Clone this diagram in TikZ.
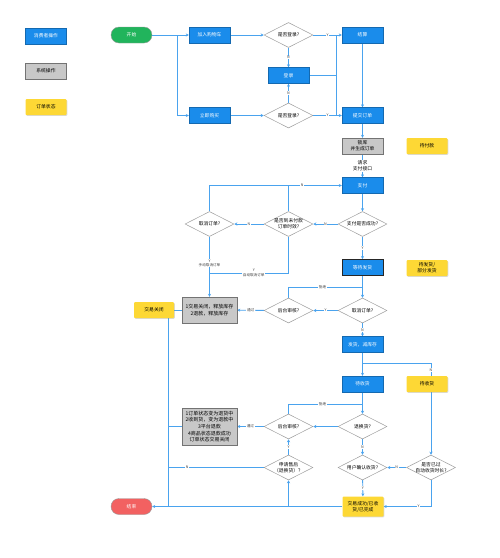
\documentclass[tikz,border=0pt]{standalone}
\usepackage{fontspec}
\newfontfamily\cjk{Noto Sans CJK SC}
\usetikzlibrary{shapes.geometric,arrows.meta,shadows,backgrounds}

\definecolor{opblue}{HTML}{1A8CEB}
\definecolor{linkblue}{HTML}{4AA3EE}
\definecolor{sysgray}{HTML}{C8C8C8}
\definecolor{stateyellow}{HTML}{FDD835}
\definecolor{startgreen}{HTML}{21B45C}
\definecolor{endred}{HTML}{F26161}
\definecolor{diagray}{HTML}{9E9E9E}

\tikzset{
  every node/.style={font=\cjk\fontsize{4.8}{6}\selectfont},
  op/.style={rectangle, draw=opblue!75!black, fill=opblue, text=white, minimum width=41pt, minimum height=16pt, inner sep=0pt},
  sys/.style={rectangle, draw=black!55, fill=sysgray, minimum width=41pt, minimum height=16pt, inner sep=1pt, align=center},
  state/.style={rectangle, rounded corners=1pt, fill=stateyellow, minimum width=41pt, minimum height=16pt, inner sep=0pt, align=center, drop shadow={shadow xshift=0.8pt, shadow yshift=-0.8pt, opacity=0.3}},
  term/.style={rectangle, rounded corners=8pt, draw=black!40, minimum width=41pt, minimum height=16pt, text=white, inner sep=0pt},
  dec/.style={diamond, draw=diagray, fill=white, minimum width=49pt, minimum height=25pt, inner sep=0pt, line width=0.5pt, label={[align=center]center:#1}},
  link/.style={draw=linkblue, line width=0.9pt},
  arr/.style={link, -{Stealth[length=3pt,width=3pt]}},
  yn/.style={fill=white, inner sep=0.6pt, align=center, text=black!75, font=\cjk\fontsize{3.6}{4.4}\selectfont},
  note/.style={fill=white, inner sep=0.6pt, align=center},
}

\begin{document}
\begin{tikzpicture}[x=1pt, y=-1pt]
\useasboundingbox (0,0) rectangle (500,558);
% Legend
\node[op] (k1) at (46,36) {消费者操作};
\node[sys] (k2) at (46,71) {系统操作};
\node[state] (k3) at (46,107) {订单状态};

% Nodes
\node[term, fill=startgreen] (1) at (131.5,35) {开始};
\node[op] (2) at (209.5,35) {加入购物车};
\node[op] (3) at (209.5,115.5) {立即购买};
\node[dec={是否登录?}] (4) at (288.5,35) {};
\node[op] (5) at (288.5,75.5) {登录};
\node[dec={是否登录?}] (6) at (288.5,115.5) {};
\node[op] (7) at (362.5,35) {结算};
\node[op] (8) at (362.5,115.5) {提交订单};
\node[sys] (9) at (362.5,146) {锁库\\并生成订单};
\node[op] (10) at (362.5,185.5) {支付};
\node[dec={支付是否成功?}] (11) at (362.5,224) {};
\node[dec={是否到未付款\\订单时效?}] (12) at (288.5,224) {};
\node[dec={取消订单?}] (13) at (209.5,224) {};
\node[op, draw=black!85, line width=0.9pt] (14) at (362.5,267.5) {等待发货};
\node[dec={取消订单?}] (15) at (362.5,310.5) {};
\node[dec={后台审核?}] (16) at (288.5,310.5) {};
\node[sys, minimum width=55pt, minimum height=26pt, font=\cjk\fontsize{5}{6.6}\selectfont] (17) at (209.5,310) {1交易关闭，释放库存\\2退款，释放库存};
\node[op] (18) at (362.5,344.5) {发货，减库存};
\node[op] (19) at (362.5,384) {待收货};
\node[dec={退换货?}] (20) at (362.5,426.5) {};
\node[dec={后台审核?}] (21) at (288.5,426.5) {};
\node[sys, minimum width=55pt, minimum height=37pt, font=\cjk\fontsize{5}{6.6}\selectfont] (22) at (209.5,426.5) {1订单状态变为退货中\\2收到货，变为退款中\\3平台退款\\4商品状态退款成功\\订单状态交易关闭};
\node[dec={申请售后\\（退换货）？}] (23) at (288.5,467.5) {};
\node[dec={用户确认收货?}] (24) at (362.5,467.5) {};
\node[dec={是否已过\\自动收货时长?}] (25) at (431,467.5) {};
\node[state, minimum height=20pt] (26) at (363,506.5) {交易成功/已收\\货/已完成};
\node[term, fill=endred] (27) at (131.5,506.5) {结束};

% Order states
\node[state] (s1) at (427,146) {待付款};
\node[state] (s2) at (427,268) {待发货/\\部分发货};
\node[state, minimum width=40pt] (s3) at (154,310) {交易关闭};
\node[state] (s4) at (427,384) {待收货};

% Edges
\begin{scope}[on background layer]
\coordinate (a) at (177,35);
\coordinate (b) at (336,35);
\coordinate (c) at (336,115.5);
\coordinate (d) at (209.5,273);
\coordinate (e) at (168,506.5);
\coordinate (f) at (362.5,287);
\coordinate (g) at (362.5,363);
\coordinate (h) at (362.5,404);
\coordinate (k) at (288.5,506.5);
\draw[arr] (1) -- (2);
\draw[arr] (a) |- (3);
\draw[arr] (2) -- (4);
\draw[arr] (3) -- (6);
\draw[arr] (4) -- node[yn]{Y} (7);
\draw[arr] (6) -- node[yn]{Y} (8);
\draw[arr] (4) -- node[yn]{N} (5);
\draw[arr] (6) -- node[yn]{N} (5);
\draw[link] (b) -- (c);
\draw[link] (5) -- (5 -| b);
\draw[arr] (7) -- (8);
\draw[arr] (8) -- (9);
\draw[arr] (9) -- node[note]{请求\\支付接口} (10);
\draw[arr] (10) -- (11);
\draw[arr] (11) -- node[yn]{N} (12);
\draw[arr] (12) -- node[yn]{N} (13);
\draw[arr] (13.north) |- node[yn, pos=0.85]{N} (10.west);
\draw[link] (12.north) -- (12.north |- 10.west);
\draw[arr] (11) -- node[yn]{Y} (14);
\draw[arr] (13) -- node[yn, pos=0.44]{Y\\手动取消订单} (17);
\draw[link] (12.south) |- node[yn, pos=0.72]{Y\\自动取消订单} (d);
\draw[link] (17) -- (s3);
\draw[link] (s3.south -| e) -- (e);
\draw[link] (22) -- (22 -| e);
\draw[arr] (14) -- (15);
\draw[arr] (15) -- node[yn]{Y} (16);
\draw[arr] (16) -- node[yn]{通过} (17);
\draw[link] (16.north) |- node[yn, pos=0.73]{拒绝} (f);
\draw[arr] (15) -- node[yn]{N} (18);
\draw[arr] (18) -- (19);
\draw[arr] (g) -| node[yn, pos=0.54]{N} (25.north);
\draw[arr] (19) -- (20);
\draw[arr] (20) -- (21);
\draw[link] (21.north) |- node[yn, pos=0.73]{拒绝} (h);
\draw[arr] (21) -- node[yn]{通过} (22);
\draw[arr] (20) -- node[yn]{N} (24);
\draw[arr] (25) -- node[yn]{N} (24);
\draw[arr] (24) -- node[yn]{Y} (26);
\draw[arr] (25.south) |- node[yn, pos=0.63]{Y} (26.east);
\draw[arr] (26) -- (27);
\draw[arr] (k) -- (23);
\draw[arr] (23) -- node[yn]{Y} (21);
\draw[link] (23) -- node[yn, pos=0.8]{N} (23 -| e);
\end{scope}
\end{tikzpicture}
\end{document}
